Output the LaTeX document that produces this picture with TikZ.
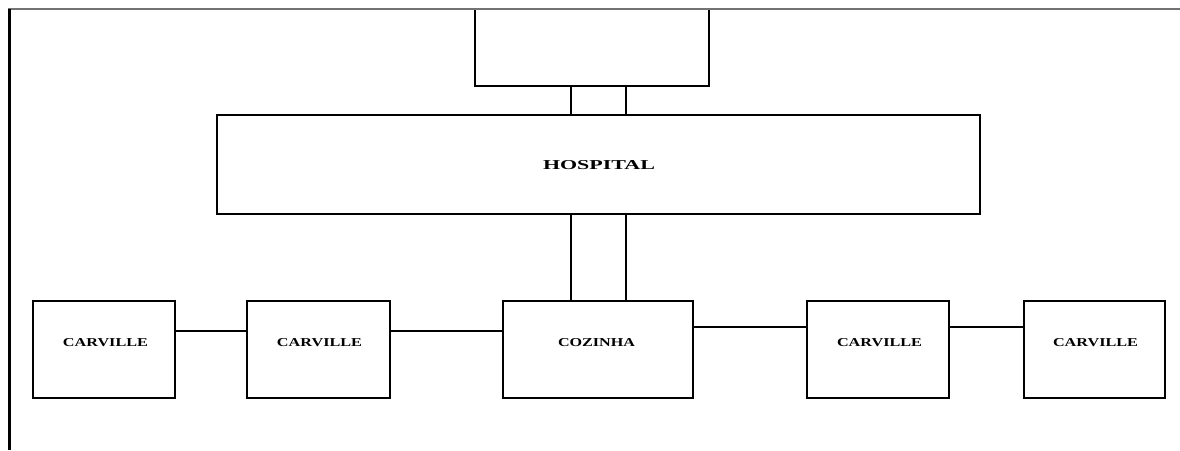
\documentclass[tikz,border=0pt]{standalone}
\usepackage{fontspec}
\setmainfont{Liberation Serif}
\newcommand\boxlbl[3]{\resizebox{#1}{#2}{\bfseries #3}}
\begin{document}
\begin{tikzpicture}[x=1pt,y=-1pt,
  box/.style={draw=black, line width=2.3pt, fill=white, outer sep=0pt, inner sep=0pt},
  lbl/.style={inner sep=0pt, outer sep=0pt},
  link/.style={draw=black, line width=1.8pt},
  dbl/.style={draw=black, line width=2.8pt}]
\useasboundingbox (0,0) rectangle (1180,450);
% frame lines
\coordinate (fl) at (9,9);
\coordinate (fb) at (9,450);
\coordinate (fr) at (1180,9);
% boxes
\node[box, minimum width=234pt, minimum height=77pt] (top) at (592,47.5) {};
\node[box, minimum width=763pt, minimum height=99pt] (hosp) at (598.5,164.5) {};
\node[box, minimum width=142pt, minimum height=97pt] (c1) at (104,349.5) {};
\node[box, minimum width=143pt, minimum height=97pt] (c2) at (318.5,349.5) {};
\node[box, minimum width=190pt, minimum height=97pt] (coz) at (598,349.5) {};
\node[box, minimum width=142pt, minimum height=97pt] (c4) at (878,349.5) {};
\node[box, minimum width=141pt, minimum height=97pt] (c5) at (1094.5,349.5) {};
% labels
\node[lbl] (thosp) at (599,165.5) {\boxlbl{112pt}{9pt}{HOSPITAL}};
\node[lbl] (t1) at (105.5,342.5) {\boxlbl{85pt}{8pt}{CARVILLE}};
\node[lbl] (t2) at (319.5,342.5) {\boxlbl{85pt}{8pt}{CARVILLE}};
\node[lbl] (tcoz) at (596.5,343) {\boxlbl{77pt}{8pt}{COZINHA}};
\node[lbl] (t4) at (879.5,342.5) {\boxlbl{85pt}{8pt}{CARVILLE}};
\node[lbl] (t5) at (1095.5,342.5) {\boxlbl{85pt}{8pt}{CARVILLE}};
% double vertical links
\foreach \dx in {-27.5,27.5}{
  \draw[dbl] ([xshift=\dx pt]hosp.north) -- ([xshift=\dx pt]hosp.north |- top.south);
  \draw[dbl] ([xshift=\dx pt]hosp.south) -- ([xshift=\dx pt]hosp.south |- coz.north);
}
% horizontal links
\draw[link] ([yshift=18.5pt]c1.east) -- ([yshift=18.5pt]c2.west);
\draw[link] ([yshift=18.5pt]c2.east) -- ([yshift=18.5pt]coz.west);
\draw[link] ([yshift=22.5pt]coz.east) -- ([yshift=22.5pt]c4.west);
\draw[link] ([yshift=22.5pt]c4.east) -- ([yshift=22.5pt]c5.west);
% frame
\draw[draw=black!55, line width=2.6pt] ([xshift=-1pt]fl) -- (fr);
\draw[draw=black, line width=3pt] (fl) -- (fb);
\end{tikzpicture}
\end{document}
